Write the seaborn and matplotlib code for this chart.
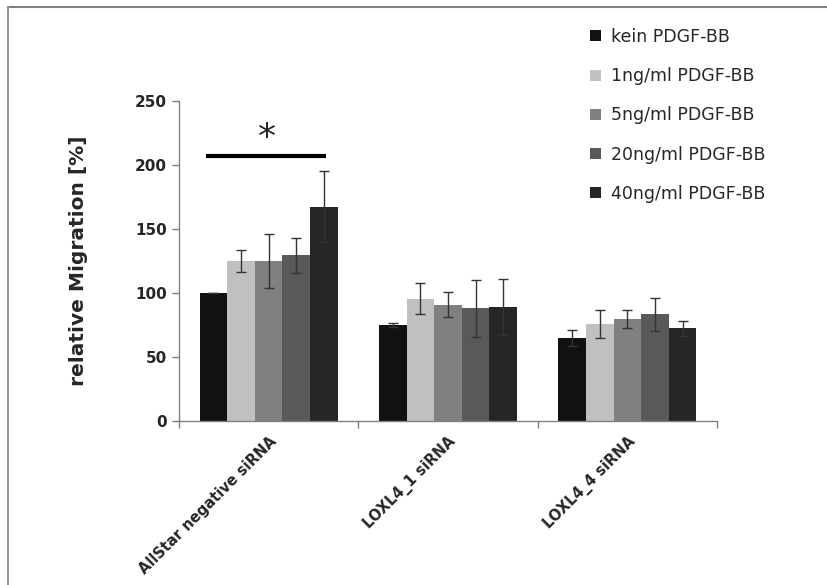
import numpy as np
import pandas as pd
import matplotlib
matplotlib.use("Agg")
import matplotlib.pyplot as plt
from matplotlib.lines import Line2D
from matplotlib.patches import Patch
import seaborn as sns

# data
groups = ["AllStar negative siRNA", "LOXL4_1 siRNA", "LOXL4_4 siRNA"]
treatments = ["kein PDGF-BB", "1ng/ml PDGF-BB", "5ng/ml PDGF-BB",
              "20ng/ml PDGF-BB", "40ng/ml PDGF-BB"]
means = {
    "kein PDGF-BB":    [100, 75, 65],
    "1ng/ml PDGF-BB":  [125, 95.5, 75.5],
    "5ng/ml PDGF-BB":  [125, 91, 79.5],
    "20ng/ml PDGF-BB": [129.5, 88, 83.5],
    "40ng/ml PDGF-BB": [167.5, 89, 72.5],
}
errors = {
    "kein PDGF-BB":    [0, 1.5, 6.5],
    "1ng/ml PDGF-BB":  [8.5, 12, 11],
    "5ng/ml PDGF-BB":  [21, 10, 7],
    "20ng/ml PDGF-BB": [13.5, 22, 13],
    "40ng/ml PDGF-BB": [28, 22, 6],
}
colors = ["#111111", "#c0c0c0", "#808080", "#595959", "#262626"]

rows = []
for t in treatments:
    for g, m in zip(groups, means[t]):
        rows.append({"group": g, "treatment": t, "value": m})
df = pd.DataFrame(rows)

sns.set_style("ticks")
plt.rcParams["font.family"] = ["DejaVu Sans"]

fig = plt.figure(figsize=(8.27, 5.85), dpi=100)
ax = fig.add_axes([0.2164, 0.2803, 0.6506, 0.5470])

sns.barplot(data=df, x="group", y="value", hue="treatment", order=groups,
            hue_order=treatments, palette=colors, width=0.77, errorbar=None,
            linewidth=0, saturation=1, legend=False, ax=ax)

# error bars on top of each bar
for t, cont in zip(treatments, ax.containers):
    xs = [p.get_x() + p.get_width() / 2 for p in cont.patches]
    ax.errorbar(xs, means[t], yerr=errors[t], fmt="none", ecolor="#333333",
                elinewidth=1, capsize=3.5, capthick=1)

ax.set_ylim(0, 250)
ax.set_xlim(-0.5, 2.5)
ax.set_yticks([0, 50, 100, 150, 200, 250])
ax.tick_params(axis="y", labelsize=11, length=5, color="#808080", width=1)
for lbl in ax.get_yticklabels():
    lbl.set_fontweight("bold")

ax.set_xticks([0, 1, 2])
ax.set_xticklabels(groups, rotation=45, ha="right", rotation_mode="anchor",
                   fontsize=10.5, fontweight="bold")
ax.tick_params(axis="x", length=0, pad=9)
ax.set_xticks([-0.5, 0.5, 1.5, 2.5], minor=True)
ax.tick_params(axis="x", which="minor", length=5, color="#808080", width=1)

ax.set_xlabel("")
ax.set_ylabel("relative Migration [%]", fontsize=14.5, fontweight="bold",
              labelpad=34)

for s in ["left", "bottom"]:
    ax.spines[s].set_color("#808080")
    ax.spines[s].set_linewidth(1)
sns.despine(ax=ax)

# significance bar
ax.plot([-0.35, 0.32], [207, 207], color="black", lw=3, solid_capstyle="butt")
ax.text(-0.01, 208, "*", ha="center", va="bottom", fontsize=26)

handles = [Patch(facecolor=c, edgecolor="none") for c in colors]
fig.legend(handles, treatments, loc="upper left",
           bbox_to_anchor=(0.714, 0.952), frameon=False, fontsize=12.5,
           handlelength=0.6, handleheight=0.6, handletextpad=0.6,
           labelspacing=1.22, borderpad=0, borderaxespad=0)

# figure frame (top and left edge)
fig.add_artist(Line2D([0.0097, 1.0], [0.988, 0.988], color="#808080", lw=1.5,
                      transform=fig.transFigure))
fig.add_artist(Line2D([0.0097, 0.0097], [0.0, 0.988], color="#999999", lw=1.5,
                      transform=fig.transFigure))

fig.savefig("out.png", dpi=100)
